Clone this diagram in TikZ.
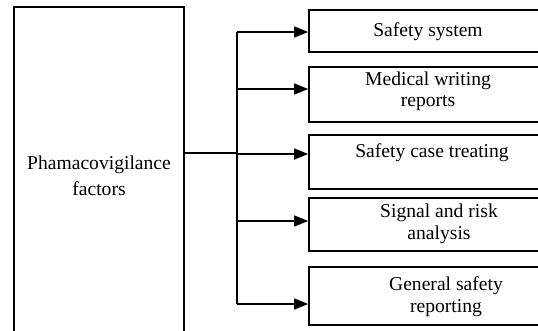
\documentclass[tikz,border=0pt]{standalone}
\usepackage{fontspec}
\setmainfont{Liberation Serif}
\usetikzlibrary{arrows.meta,calc}
\tikzset{
	factorbox/.style={draw, line width=1.1pt, minimum width=170pt, minimum height=337pt},
	itembox/.style={draw, line width=1.7pt, minimum width=252pt, inner sep=0pt},
	itemtext/.style={align=center, inner sep=0pt, font=\fontsize{19.6}{21.5}\selectfont},
	link/.style={line width=1.4pt},
	arrow/.style={link, -{Triangle[length=14pt,width=11pt]}}
}

\begin{document}
\begin{tikzpicture}[x=1pt, y=-1pt]
		\useasboundingbox (0,0) rectangle (538,330);
		\clip (0,0) rectangle (538,330);

		% left block
		\node[factorbox] (main) at (99,175.5) {};
		\node[itemtext, font=\fontsize{19.6}{26}\selectfont] (mainlbl) at (99,175.5) {Phamacovigilance\\factors};

		% right blocks
		\node[itembox, minimum height=42pt] (sys) at (435,31) {};
		\node[itembox, minimum height=55pt] (med) at (435,94.5) {};
		\node[itembox, minimum height=54pt] (case) at (435,162) {};
		\node[itembox, minimum height=53pt] (sig) at (435,224.5) {};
		\node[itembox, minimum height=58pt] (gen) at (435,296) {};

		\node[itemtext] (syslbl) at (428,31.5) {Safety system};
		\node[itemtext] (medlbl) at (428,91.5) {Medical writing\\reports};
		\node[itemtext] (caselbl) at (432,152.5) {Safety case treating};
		\node[itemtext] (siglbl) at (439,224) {Signal and risk\\analysis};
		\node[itemtext] (genlbl) at (446,296.5) {General safety\\reporting};

		% connectors
		\coordinate (hub) at (237,153);
		\draw[link] (main.east |- hub) -- (hub);
		\foreach \name/\y in {sys/32, med/89, case/154, sig/221, gen/304} {
			\coordinate (j\name) at (237,\y);
			\draw[arrow] (j\name) -- (j\name -| \name.west);
		}
		\draw[link] (jsys) -- (jgen);
	\end{tikzpicture}
\end{document}
